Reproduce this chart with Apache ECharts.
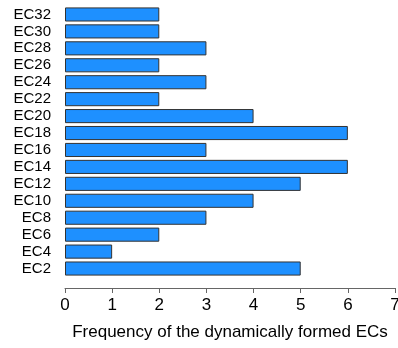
<!DOCTYPE html>
<html>
<head>
<meta charset="utf-8">
<script src="https://cdn.jsdelivr.net/npm/echarts@6/dist/echarts.min.js"></script>
<style>html,body{margin:0;padding:0;background:#fff}#c{width:398px;height:348px}</style>
</head>
<body>
<div id="c"></div>
<script>
var categories = ['EC2','EC4','EC6','EC8','EC10','EC12','EC14','EC16','EC18','EC20','EC22','EC24','EC26','EC28','EC30','EC32'];
var values = [5,1,2,3,4,5,6,3,6,4,2,3,2,3,2,2];
var xTicks = [0,1,2,3,4,5,6,7];
var xTitle = 'Frequency of the dynamically formed ECs';

var chart = echarts.init(document.getElementById('c'), null, {renderer:'canvas'});
chart.setOption({
  animation: false,
  grid: {left: 65, right: 3, top: 6, bottom: 71, containLabel: false, outerBoundsMode: 'none'},
  xAxis: {
    type: 'value', min: 0, max: 7, interval: 1, offset: 11,
    name: xTitle, nameLocation: 'middle', nameGap: 36,
    nameTextStyle: {fontFamily: 'Liberation Sans, Arial', fontSize: 17, color: '#000'},
    axisLine: {show: true, lineStyle: {color: '#666', width: 1}},
    axisTick: {show: true, length: 5, lineStyle: {color: '#666'}},
    axisLabel: {fontFamily: 'Liberation Sans, Arial', fontSize: 17, color: '#000', margin: 9,
      formatter: function(v){ return xTicks.indexOf(v) >= 0 ? String(v) : ''; }},
    splitLine: {show: false}
  },
  yAxis: {
    type: 'category', data: categories,
    axisLine: {show: false}, axisTick: {show: false},
    axisLabel: {fontFamily: 'Liberation Sans, Arial', fontSize: 15, color: '#000', margin: 14, interval: 0}
  },
  series: [{
    type: 'bar', data: values, barCategoryGap: '16.7%',
    itemStyle: {color: '#1E90FF', borderColor: '#333', borderWidth: 1}
  }]
});
</script>
</body>
</html>
